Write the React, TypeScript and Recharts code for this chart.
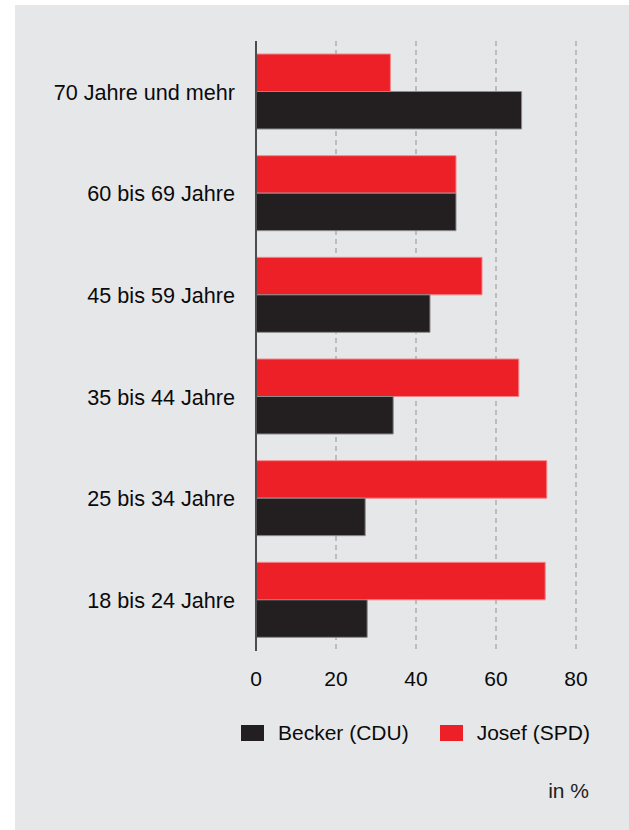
import React from "react";
import { BarChart, Bar, XAxis, YAxis, CartesianGrid, Legend } from "recharts";

const categories = [
  "70 Jahre und mehr",
  "60 bis 69 Jahre",
  "45 bis 59 Jahre",
  "35 bis 44 Jahre",
  "25 bis 34 Jahre",
  "18 bis 24 Jahre",
];
const beckerCDU = [66.4, 50, 43.5, 34.3, 27.3, 27.8];
const josefSPD = [33.6, 50, 56.5, 65.7, 72.7, 72.3];
const xTicks = [0, 20, 40, 60, 80];
const legendOrder = ["becker", "josef"];
const unitLabel = "in %";

const RED = "#ed1f27";
const BLACK = "#231f20";
const FONT = "'Liberation Sans', Arial, Helvetica, sans-serif";

const data = categories.map((c, i) => ({
  name: c,
  becker: beckerCDU[i],
  josef: josefSPD[i],
}));

const renderLegend = (props: any) => {
  const payload = [...(props.payload || [])].sort(
    (a: any, b: any) => legendOrder.indexOf(a.dataKey) - legendOrder.indexOf(b.dataKey)
  );
  return (
    <div style={{ display: "flex", alignItems: "center", fontFamily: FONT, fontSize: 21, color: "#0a0a0a" }}>
      {payload.map((p: any, i: number) => (
        <div key={i} style={{ display: "flex", alignItems: "center", marginRight: i === 0 ? 31 : 0 }}>
          <span style={{ display: "inline-block", width: 23, height: 16, background: p.color, marginRight: 14 }} />
          <span style={{ lineHeight: "24px" }}>{p.value}</span>
        </div>
      ))}
    </div>
  );
};

export default function App() {
  return (
    <div style={{ position: "absolute", left: 0, top: 0, width: 629, height: 830, background: "#fff" }}>
      <div style={{ position: "absolute", left: 15, top: 5, width: 614, height: 825, background: "#e6e7e9" }} />
      <div style={{ position: "absolute", left: 0, top: 0 }}>
        <BarChart
          width={629}
          height={830}
          data={data}
          layout="vertical"
          margin={{ top: 41, right: 53, bottom: 149, left: 15 }}
          barGap={0}
        >
          <CartesianGrid horizontal={false} stroke="#a5a5a5" strokeDasharray="5 4" strokeWidth={1.3} />
          <XAxis
            type="number"
            domain={[0, 80]}
            ticks={xTicks}
            axisLine={false}
            tickLine={false}
            tickMargin={14}
            height={30}
            tick={{ fill: "#0a0a0a", fontSize: 21, fontFamily: FONT }}
          />
          <YAxis
            type="category"
            dataKey="name"
            width={241}
            axisLine={{ stroke: "#4d4d4d", strokeWidth: 2 }}
            tickLine={false}
            tickSize={0}
            tickMargin={21}
            tick={{ fill: "#0a0a0a", fontSize: 21.6, fontFamily: FONT }}
          />
          <Bar dataKey="josef" name="Josef (SPD)" fill={RED} stroke="#f3868b" strokeWidth={1} barSize={37.5} isAnimationActive={false} />
          <Bar dataKey="becker" name="Becker (CDU)" fill={BLACK} stroke="#8c8c8c" strokeWidth={1} barSize={37.5} isAnimationActive={false} />
          <Legend
            layout="horizontal"
            verticalAlign="middle"
            align="center"
            content={renderLegend}
            wrapperStyle={{ position: "absolute", left: 241, top: 721, width: 380, height: 24 }}
          />
        </BarChart>
      </div>
      <div
        style={{
          position: "absolute",
          right: 629 - 589,
          top: 778,
          fontFamily: FONT,
          fontSize: 21,
          color: "#222",
          lineHeight: "26px",
        }}
      >
        {unitLabel}
      </div>
    </div>
  );
}
